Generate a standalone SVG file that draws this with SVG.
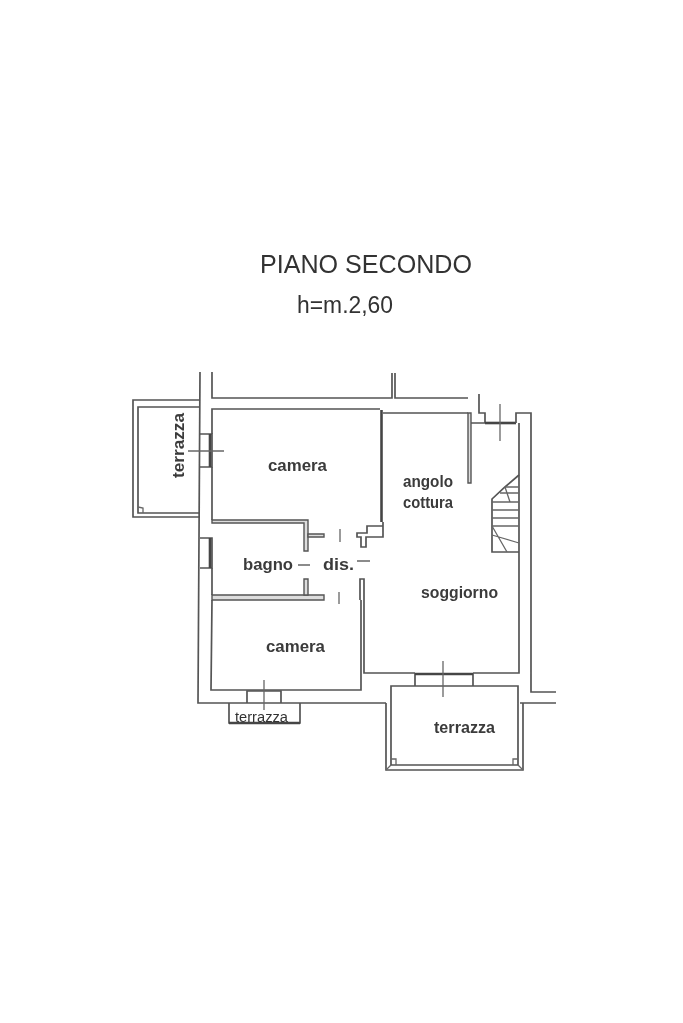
<svg xmlns="http://www.w3.org/2000/svg" width="683" height="1023" viewBox="0 0 683 1023">
<style>
.w{fill:none;stroke:#555;stroke-width:1.7}
.t{fill:none;stroke:#444;stroke-width:2.6}
.g{fill:#ddd;stroke:#555;stroke-width:1.4}
.x{fill:none;stroke:#666;stroke-width:1.3}
.l{font-family:"Liberation Sans",Arial,sans-serif;font-size:16.500px;font-weight:bold;fill:#3a3a3a}
.h{font-family:"Liberation Sans",Arial,sans-serif;fill:#333}
</style>
<defs><filter id="b" x="-5%" y="-5%" width="110%" height="110%"><feGaussianBlur stdDeviation="0.5"/></filter></defs>
<rect width="683" height="1023" fill="#fff"/>
<g id="titles" filter="url(#b)">
<text class="h" x="260" y="273" font-size="25.500" textLength="212" lengthAdjust="spacingAndGlyphs">PIANO SECONDO</text>
<text class="h" x="297" y="313" font-size="23" textLength="96" lengthAdjust="spacingAndGlyphs">h=m.2,60</text>
</g>
<g id="walls" filter="url(#b)">
<path class="w" d="M200 372L198 703H386M212 372V398H392V373M395 373V398H468"/>
<path class="w" d="M212 434V409H380M212 467V520M212 568V595M212 600L211 690H361V600"/>
<path class="w" d="M383 413H468M479 394V413H485V423"/>
<path class="t" d="M381.500 410V522"/>
<path class="g" d="M468 413H471V483H468Z"/>
<path class="t" d="M485 423H516"/>
<path class="w" d="M471 423H485M516 423V413H531V692H556M519 423V673H473M415 673H364V579H360V600M520 703H556"/>
<path class="g" d="M212 520H308V551H304V523H212Z"/>
<path class="g" d="M308 534H324V537H308Z"/>
<path class="g" d="M212 595H324V600H212Z"/>
<path class="g" d="M304 579H308V595H304Z"/>
<path class="w" d="M383 522V537H366V547H361V537H357V533H367V526H383"/>
<path class="x" d="M340 529V542M339 592V604M357 561H370M298 565H310"/>
<path class="x" d="M500 404V441"/>
</g>
<g id="terrace-left" filter="url(#b)">
<path class="w" d="M200 400H133V517H200M200 407H138V513H200"/>
<path class="x" d="M138 507L143 508V513"/>
<path class="w" d="M200 434H212V467H200"/>
<path class="t" d="M210 434V467"/>
<path class="x" d="M188 451H224"/>
</g>
<g id="window-bagno" filter="url(#b)">
<path class="w" d="M200 538H212V568H200"/>
<path class="t" d="M210 538V568"/>
</g>
<g id="terrace-small" filter="url(#b)">
<path class="w" d="M229 703V723H300V703"/>
<path class="t" d="M229 723H300"/>
<path class="w" d="M247 703V691H281V703"/>
<path class="x" d="M264 680V710"/>
</g>
<g id="terrace-right" filter="url(#b)">
<path class="w" d="M391 686H518V765H391ZM386 703V770H523V703"/>
<path class="x" d="M386 770L391 765M391 759H396V765M518 759H513V765M523 770L518 765"/>
<path class="w" d="M415 686V673M473 686V673"/>
<path class="t" d="M415 674H473"/>
<path class="x" d="M443 661V697"/>
</g>
<g id="stairs" filter="url(#b)">
<path class="w" d="M519 475L505 487L492 499V552H519"/>
<path class="x" d="M505 487H519M500 493H519M492 502H519M492 510H519M492 518H519M492 526H519M505 487L510 502M492 526L507 552M492 535L519 543"/>
</g>
<g id="labels" filter="url(#b)">
<text class="l" x="268" y="471" textLength="59" lengthAdjust="spacingAndGlyphs">camera</text>
<text class="l" x="266" y="652" textLength="59" lengthAdjust="spacingAndGlyphs">camera</text>
<text class="l" x="243" y="570" textLength="50" lengthAdjust="spacingAndGlyphs">bagno</text>
<text class="l" x="323" y="570" textLength="31" lengthAdjust="spacingAndGlyphs">dis.</text>
<text class="l" x="403" y="487" textLength="50" lengthAdjust="spacingAndGlyphs">angolo</text>
<text class="l" x="403" y="508" textLength="50" lengthAdjust="spacingAndGlyphs">cottura</text>
<text class="l" x="421" y="598" textLength="77" lengthAdjust="spacingAndGlyphs">soggiorno</text>
<text class="l" x="434" y="733" textLength="61" lengthAdjust="spacingAndGlyphs">terrazza</text>
<text class="l" transform="translate(184 478) rotate(-90)" textLength="65" lengthAdjust="spacingAndGlyphs">terrazza</text>
<text class="h" x="235" y="722" font-size="14" textLength="53" lengthAdjust="spacingAndGlyphs" fill="#555">terrazza</text>
</g>
</svg>
